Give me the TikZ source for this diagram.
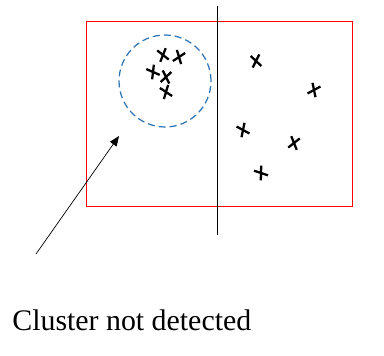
\documentclass[tikz,border=0pt]{standalone}
\usepackage{fontspec}
\setmainfont{Liberation Serif}
\usepackage{xcolor}
\usetikzlibrary{arrows.meta,shapes.misc}

\definecolor{clusterblue}{RGB}{46,117,182}

\begin{document}
\begin{tikzpicture}[
  x=0.02cm, y=-0.02cm,
  pt/.style={draw,cross out,line width=1.3pt,minimum width=0.13cm,minimum height=0.19cm,inner sep=0pt},
  ring/.style={draw=clusterblue,circle,line width=0.7pt,dash pattern=on 4pt off 2.3pt,minimum size=1.84cm,inner sep=0pt},
  arrow/.style={-{Triangle[length=2mm,width=1.6mm]},thin}
]
\useasboundingbox[fill=white] (0,0) rectangle (384,355);
% field and split line
\node[draw=red,thin,inner sep=0pt,minimum width=5.32cm,minimum height=3.7cm] (field) at (219,113.5) {};
\coordinate (top) at (217,6);
\coordinate (bot) at (217,235);
\draw[thin] (top) -- (bot);
% cluster on the left
\node[ring] (cluster) at (165,81) {};
\node[pt,rotate=15] (p1) at (163,55) {};
\node[pt,rotate=-20] (p2) at (179,57) {};
\node[pt,rotate=30] (p3) at (153,72) {};
\node[pt,rotate=-10] (p4) at (166,77) {};
\node[pt,rotate=20] (p5) at (166,92) {};
% scattered points on the right
\node[pt,rotate=10] (p6) at (256,61) {};
\node[pt,rotate=-25] (p7) at (314,90) {};
\node[pt,rotate=25] (p8) at (243,130) {};
\node[pt,rotate=-15] (p9) at (294,143) {};
\node[pt,rotate=35] (p10) at (261,173) {};
% pointer and caption
\coordinate (tail) at (36,254);
\coordinate (tip) at (119,136);
\draw[arrow] (tail) -- (tip);
\node[anchor=base west,inner sep=0pt,font=\fontsize{17}{20}\selectfont] (caption) at (12,330) {Cluster not detected};
\end{tikzpicture}
\end{document}
